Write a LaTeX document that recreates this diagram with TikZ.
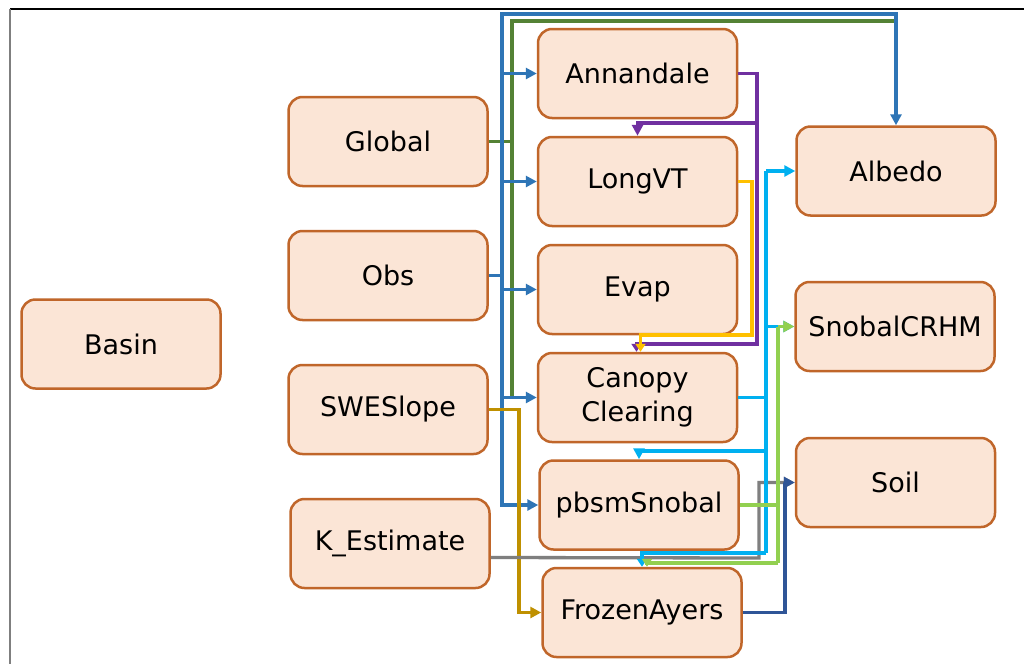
\documentclass[tikz,border=0pt]{standalone}
\usepackage{fontspec}
\setmainfont{DejaVu Sans}
\usetikzlibrary{arrows.meta}
\definecolor{boxfill}{HTML}{FBE5D6}
\definecolor{boxline}{HTML}{C0662A}
\definecolor{cblue}{HTML}{2E75B6}
\definecolor{cgreen}{HTML}{548235}
\definecolor{cpurple}{HTML}{7030A0}
\definecolor{cyellow}{HTML}{FFC000}
\definecolor{ccyan}{HTML}{00B0F0}
\definecolor{clgreen}{HTML}{92D050}
\definecolor{cgray}{HTML}{7F7F7F}
\definecolor{cdblue}{HTML}{2F5597}
\definecolor{cgold}{HTML}{BF9000}
\begin{document}
\begin{tikzpicture}[x=1pt,y=-1pt,
  module/.style={draw=boxline, fill=boxfill, line width=2.5pt, rounded corners=14pt,
    minimum width=199pt, minimum height=89pt, align=center, inner sep=0pt,
    font=\fontsize{27}{34}\selectfont},
  conn/.style={line width=3.3pt},
  tip/.style={-{Triangle[length=11pt,width=11pt]}},
  stip/.style={-{Triangle[length=8pt,width=10pt]}},
]
\useasboundingbox (0,0) rectangle (1024,664);
\fill[white] (0,0) rectangle (1024,664);
\draw[line width=1.5pt, black] (10,9) -- (1024,9);
\draw[line width=1.5pt, cgray] (10,9) -- (10,664);

% nodes
\node[module] (basin) at (121,344) {Basin};
\node[module] (global) at (388,141.5) {Global};
\node[module] (obs) at (388,275.5) {Obs};
\node[module] (swe) at (388,409.5) {SWESlope};
\node[module] (kest) at (390,543.5) {K\_Estimate};
\node[module] (ann) at (637.5,73.5) {Annandale};
\node[module] (lvt) at (637.5,181.5) {LongVT};
\node[module] (evap) at (637.5,289.5) {Evap};
\node[module] (can) at (637.5,397.5) {Canopy\\Clearing};
\node[module] (pbsm) at (639,505) {pbsmSnobal};
\node[module] (froz) at (642,612.5) {FrozenAyers};
\node[module] (alb) at (896,171) {Albedo};
\node[module] (scrhm) at (895,326.5) {SnobalCRHM};
\node[module] (soil) at (895.5,482.5) {Soil};

% trunk coordinates
\coordinate (bt) at (502,14);
\coordinate (gt) at (512,21);
\coordinate (pv) at (757,123);
\coordinate (pb) at (757,344);
\coordinate (yv) at (752,335);
\coordinate (cv) at (766,553);
\coordinate (lv) at (778,563);
\coordinate (gv) at (759,558);
\coordinate (dv) at (785,612.5);
\coordinate (ov) at (519,409.5);

% green (Global)
\draw[conn, cgreen] (global.east) -| (gt) -- (alb.north |- gt);
\draw[conn, cgreen] (global.east -| gt) -- (can.west -| gt);

% blue (Obs)
\draw[conn, cblue, tip] (obs.east) -- (obs.east -| bt) -- (bt) -| (alb.north);
\draw[conn, cblue, tip] (bt) |- (pbsm.west);
\draw[conn, cblue, tip] (ann.west -| bt) -- (ann.west);
\draw[conn, cblue, tip] (lvt.west -| bt) -- (lvt.west);
\draw[conn, cblue, tip] (evap.west -| bt) -- (evap.west);
\draw[conn, cblue, tip] (can.west -| bt) -- (can.west);

% purple (Annandale)
\draw[conn, cpurple, stip] (ann.east) -| (pb) -| ([xshift=-1pt]can.north);
\draw[conn, cpurple, tip] (pv) -| (lvt.north);

% yellow (LongVT)
\draw[conn, cyellow, stip] (lvt.east) -| (yv) -| ([xshift=3pt]can.north);

% gold (SWESlope)
\draw[conn, cgold, tip] (swe.east) -- (ov) |- (froz.west);

% gray (K_Estimate)
\draw[conn, cgray, tip] ([yshift=-14pt]kest.east) -- (gv) |- (soil.west);

% cyan (Canopy Clearing)
\draw[conn, ccyan] (can.east) -- (can.east -| cv);
\draw[conn, ccyan] (alb.west -| cv) -- (cv);
\draw[conn, ccyan, tip] (alb.west -| cv) -- (alb.west);
\draw[conn, ccyan, tip] (scrhm.west -| cv) -- (scrhm.west);
\draw[conn, ccyan, tip] (766,451) -| (pbsm.north);
\draw[conn, ccyan, stip] (cv) -| (froz.north);

% light green (pbsmSnobal)
\draw[conn, clgreen] (pbsm.east) -- (pbsm.east -| lv);
\draw[conn, clgreen] (scrhm.west -| lv) -- (lv);
\draw[conn, clgreen, tip] (scrhm.west -| lv) -- (scrhm.west);
\draw[conn, clgreen, stip] (lv) -| ([xshift=5pt]froz.north);

% dark blue (FrozenAyers)
\draw[conn, cdblue, tip] (froz.east) -- (dv) |- (soil.west);
\end{tikzpicture}
\end{document}
